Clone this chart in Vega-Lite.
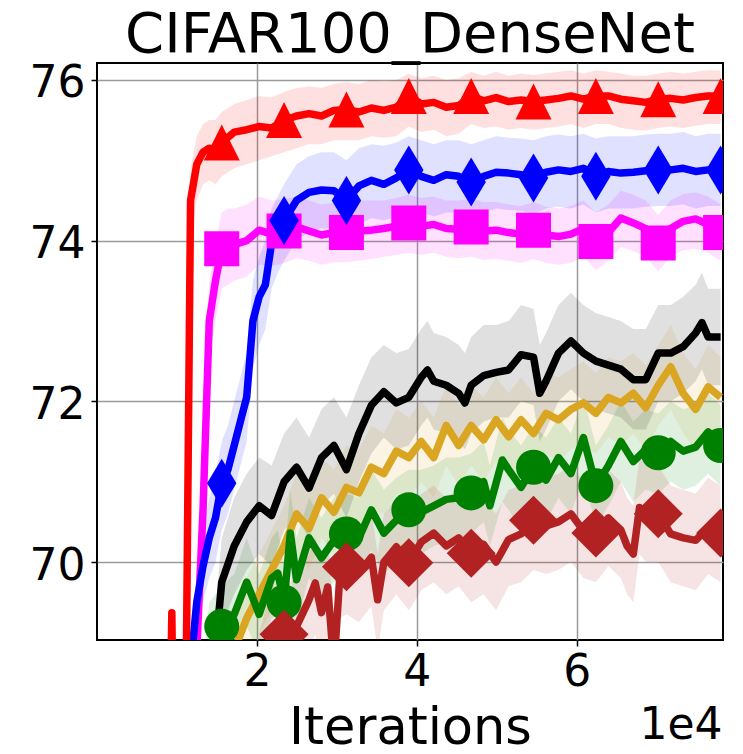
{
  "$schema": "https://vega.github.io/schema/vega-lite/v6.json",
  "width": 626,
  "height": 577,
  "autosize": {"type": "none"},
  "padding": {"left": 97, "top": 63, "right": 20, "bottom": 114},
  "background": "white",
  "title": {
    "text": "CIFAR100_DenseNet",
    "font": "DejaVu Sans",
    "fontSize": 56,
    "fontWeight": "normal",
    "color": "black",
    "anchor": "middle",
    "frame": "group",
    "baseline": "alphabetic",
    "offset": -46
  },
  "config": {
    "font": "DejaVu Sans",
    "view": {"stroke": "black", "strokeWidth": 2}
  },
  "data": {
    "values": [
      {"s":"s1","x":15600,"y":67.5,"lo":67.0,"hi":68.0},
      {"s":"s1","x":17160,"y":68.9,"lo":68.4,"hi":69.4},
      {"s":"s1","x":18720,"y":69.3,"lo":68.8,"hi":69.8},
      {"s":"s1","x":20280,"y":69.6,"lo":69.1,"hi":70.1},
      {"s":"s1","x":21840,"y":69.9,"lo":69.4,"hi":70.4},
      {"s":"s1","x":23400,"y":70.2,"lo":69.7,"hi":70.7},
      {"s":"s1","x":24960,"y":70.6,"lo":70.1,"hi":71.1},
      {"s":"s1","x":26520,"y":70.42,"lo":69.9,"hi":70.95},
      {"s":"s1","x":28080,"y":70.8,"lo":70.3,"hi":71.3},
      {"s":"s1","x":29640,"y":70.62,"lo":70.1,"hi":71.15},
      {"s":"s1","x":31200,"y":70.93,"lo":70.4,"hi":71.45},
      {"s":"s1","x":32760,"y":70.86,"lo":70.35,"hi":71.4},
      {"s":"s1","x":34320,"y":71.18,"lo":70.65,"hi":71.7},
      {"s":"s1","x":35880,"y":71.1,"lo":70.6,"hi":71.6},
      {"s":"s1","x":37440,"y":71.38,"lo":70.85,"hi":71.9},
      {"s":"s1","x":39000,"y":71.3,"lo":70.8,"hi":71.8},
      {"s":"s1","x":40560,"y":71.5,"lo":71.0,"hi":72.0},
      {"s":"s1","x":42120,"y":71.3,"lo":70.8,"hi":71.8},
      {"s":"s1","x":43680,"y":71.7,"lo":71.2,"hi":72.2},
      {"s":"s1","x":45240,"y":71.45,"lo":70.95,"hi":71.95},
      {"s":"s1","x":46800,"y":71.7,"lo":71.2,"hi":72.2},
      {"s":"s1","x":48360,"y":71.52,"lo":71.0,"hi":72.05},
      {"s":"s1","x":49920,"y":71.77,"lo":71.25,"hi":72.3},
      {"s":"s1","x":51480,"y":71.56,"lo":71.05,"hi":72.1},
      {"s":"s1","x":53040,"y":71.77,"lo":71.25,"hi":72.3},
      {"s":"s1","x":54600,"y":71.6,"lo":71.1,"hi":72.1},
      {"s":"s1","x":56160,"y":71.85,"lo":71.35,"hi":72.35},
      {"s":"s1","x":57720,"y":71.77,"lo":71.25,"hi":72.3},
      {"s":"s1","x":59280,"y":71.9,"lo":71.4,"hi":72.4},
      {"s":"s1","x":60840,"y":71.98,"lo":71.45,"hi":72.5},
      {"s":"s1","x":62400,"y":71.85,"lo":71.35,"hi":72.35},
      {"s":"s1","x":63960,"y":72.05,"lo":71.55,"hi":72.55},
      {"s":"s1","x":65520,"y":71.98,"lo":71.45,"hi":72.5},
      {"s":"s1","x":67080,"y":72.1,"lo":71.6,"hi":72.6},
      {"s":"s1","x":68640,"y":71.92,"lo":71.4,"hi":72.45},
      {"s":"s1","x":70200,"y":72.2,"lo":71.7,"hi":72.7},
      {"s":"s1","x":71760,"y":72.43,"lo":71.9,"hi":72.95},
      {"s":"s1","x":73320,"y":72.1,"lo":71.6,"hi":72.6},
      {"s":"s1","x":74880,"y":71.9,"lo":71.4,"hi":72.4},
      {"s":"s1","x":76440,"y":72.18,"lo":71.65,"hi":72.7},
      {"s":"s1","x":78000,"y":72.05,"lo":71.55,"hi":72.55},

      {"s":"s2","x":12480,"y":67.5,"lo":67.0,"hi":68.0},
      {"s":"s2","x":14040,"y":68.95,"lo":68.4,"hi":69.5},
      {"s":"s2","x":15600,"y":69.2,"lo":68.7,"hi":69.7},
      {"s":"s2","x":17160,"y":69.35,"lo":68.85,"hi":69.85},
      {"s":"s2","x":18720,"y":69.75,"lo":69.2,"hi":70.3},
      {"s":"s2","x":20280,"y":69.35,"lo":68.85,"hi":69.85},
      {"s":"s2","x":21840,"y":69.8,"lo":69.3,"hi":70.3},
      {"s":"s2","x":22620,"y":69.86,"lo":69.35,"hi":70.4},
      {"s":"s2","x":23400,"y":69.5,"lo":69.0,"hi":70.0},
      {"s":"s2","x":24180,"y":70.36,"lo":69.85,"hi":70.9},
      {"s":"s2","x":24960,"y":69.78,"lo":69.25,"hi":70.3},
      {"s":"s2","x":26520,"y":70.3,"lo":69.8,"hi":70.8},
      {"s":"s2","x":28080,"y":70.05,"lo":69.55,"hi":70.55},
      {"s":"s2","x":29640,"y":70.27,"lo":69.75,"hi":70.8},
      {"s":"s2","x":31200,"y":70.35,"lo":69.85,"hi":70.85},
      {"s":"s2","x":32760,"y":70.3,"lo":69.8,"hi":70.8},
      {"s":"s2","x":34320,"y":70.65,"lo":70.15,"hi":71.15},
      {"s":"s2","x":35880,"y":70.36,"lo":69.85,"hi":70.9},
      {"s":"s2","x":37440,"y":70.52,"lo":70.0,"hi":71.05},
      {"s":"s2","x":39000,"y":70.65,"lo":70.15,"hi":71.15},
      {"s":"s2","x":40560,"y":70.62,"lo":70.1,"hi":71.15},
      {"s":"s2","x":42120,"y":70.7,"lo":70.2,"hi":71.2},
      {"s":"s2","x":43680,"y":70.78,"lo":70.25,"hi":71.3},
      {"s":"s2","x":45240,"y":70.8,"lo":70.3,"hi":71.3},
      {"s":"s2","x":46800,"y":70.86,"lo":70.35,"hi":71.35},
      {"s":"s2","x":48360,"y":71.0,"lo":70.5,"hi":71.5},
      {"s":"s2","x":49140,"y":70.7,"lo":70.2,"hi":71.2},
      {"s":"s2","x":50700,"y":71.27,"lo":70.75,"hi":71.8},
      {"s":"s2","x":51480,"y":71.15,"lo":70.65,"hi":71.65},
      {"s":"s2","x":53040,"y":70.93,"lo":70.4,"hi":71.45},
      {"s":"s2","x":54600,"y":71.18,"lo":70.65,"hi":71.7},
      {"s":"s2","x":56160,"y":71.02,"lo":70.5,"hi":71.55},
      {"s":"s2","x":57720,"y":71.3,"lo":70.8,"hi":71.8},
      {"s":"s2","x":59280,"y":71.1,"lo":70.6,"hi":71.6},
      {"s":"s2","x":60840,"y":71.55,"lo":71.05,"hi":72.05},
      {"s":"s2","x":62400,"y":70.95,"lo":70.45,"hi":71.45},
      {"s":"s2","x":63960,"y":71.2,"lo":70.7,"hi":71.7},
      {"s":"s2","x":65520,"y":71.5,"lo":71.0,"hi":72.0},
      {"s":"s2","x":67080,"y":71.25,"lo":70.75,"hi":71.75},
      {"s":"s2","x":68640,"y":71.4,"lo":70.9,"hi":71.9},
      {"s":"s2","x":70200,"y":71.36,"lo":70.85,"hi":71.85},
      {"s":"s2","x":71760,"y":71.5,"lo":71.0,"hi":72.0},
      {"s":"s2","x":73320,"y":71.38,"lo":70.9,"hi":71.9},
      {"s":"s2","x":74880,"y":71.43,"lo":70.95,"hi":71.95},
      {"s":"s2","x":76440,"y":71.62,"lo":71.1,"hi":72.1},
      {"s":"s2","x":78000,"y":71.45,"lo":70.95,"hi":71.95},

      {"s":"s3","x":18720,"y":67.5,"lo":67.0,"hi":68.0},
      {"s":"s3","x":20280,"y":68.5,"lo":67.9,"hi":69.1},
      {"s":"s3","x":21840,"y":69.1,"lo":68.5,"hi":69.7},
      {"s":"s3","x":23400,"y":69.1,"lo":68.5,"hi":69.7},
      {"s":"s3","x":24960,"y":69.2,"lo":68.6,"hi":69.8},
      {"s":"s3","x":26520,"y":69.53,"lo":68.9,"hi":70.1},
      {"s":"s3","x":27300,"y":69.74,"lo":69.1,"hi":70.3},
      {"s":"s3","x":28080,"y":69.37,"lo":68.75,"hi":70.0},
      {"s":"s3","x":28860,"y":69.69,"lo":69.05,"hi":70.3},
      {"s":"s3","x":29640,"y":68.7,"lo":68.1,"hi":69.3},
      {"s":"s3","x":30420,"y":69.9,"lo":69.3,"hi":70.5},
      {"s":"s3","x":31200,"y":69.94,"lo":69.35,"hi":70.55},
      {"s":"s3","x":32760,"y":69.86,"lo":69.25,"hi":70.45},
      {"s":"s3","x":34320,"y":70.06,"lo":69.45,"hi":70.65},
      {"s":"s3","x":35100,"y":69.53,"lo":68.9,"hi":70.1},
      {"s":"s3","x":35880,"y":70.0,"lo":69.4,"hi":70.6},
      {"s":"s3","x":37440,"y":70.19,"lo":69.6,"hi":70.8},
      {"s":"s3","x":39000,"y":69.99,"lo":69.4,"hi":70.6},
      {"s":"s3","x":40560,"y":70.25,"lo":69.65,"hi":70.85},
      {"s":"s3","x":42120,"y":70.36,"lo":69.75,"hi":70.95},
      {"s":"s3","x":43680,"y":70.2,"lo":69.6,"hi":70.8},
      {"s":"s3","x":45240,"y":70.3,"lo":69.7,"hi":70.9},
      {"s":"s3","x":46800,"y":70.11,"lo":69.5,"hi":70.7},
      {"s":"s3","x":48360,"y":70.22,"lo":69.6,"hi":70.8},
      {"s":"s3","x":49920,"y":70.0,"lo":69.4,"hi":70.6},
      {"s":"s3","x":51480,"y":70.28,"lo":69.7,"hi":70.9},
      {"s":"s3","x":53040,"y":70.35,"lo":69.75,"hi":70.95},
      {"s":"s3","x":54600,"y":70.52,"lo":69.9,"hi":71.1},
      {"s":"s3","x":56160,"y":70.45,"lo":69.85,"hi":71.05},
      {"s":"s3","x":57720,"y":70.5,"lo":69.9,"hi":71.1},
      {"s":"s3","x":59280,"y":70.6,"lo":70.0,"hi":71.2},
      {"s":"s3","x":60840,"y":70.39,"lo":69.8,"hi":71.0},
      {"s":"s3","x":62400,"y":70.36,"lo":69.75,"hi":70.95},
      {"s":"s3","x":63960,"y":70.55,"lo":69.95,"hi":71.15},
      {"s":"s3","x":65520,"y":70.4,"lo":69.8,"hi":71.0},
      {"s":"s3","x":66300,"y":70.2,"lo":69.6,"hi":70.8},
      {"s":"s3","x":67080,"y":70.1,"lo":69.5,"hi":70.7},
      {"s":"s3","x":67860,"y":70.68,"lo":70.1,"hi":71.3},
      {"s":"s3","x":68640,"y":70.62,"lo":70.0,"hi":71.2},
      {"s":"s3","x":70200,"y":70.6,"lo":70.0,"hi":71.2},
      {"s":"s3","x":71760,"y":70.35,"lo":69.75,"hi":70.95},
      {"s":"s3","x":73320,"y":70.3,"lo":69.7,"hi":70.9},
      {"s":"s3","x":74880,"y":70.27,"lo":69.65,"hi":70.85},
      {"s":"s3","x":76440,"y":70.43,"lo":69.85,"hi":71.05},
      {"s":"s3","x":78000,"y":70.36,"lo":69.75,"hi":70.95},

      {"s":"s4","x":14040,"y":67.0,"lo":66.5,"hi":67.5},
      {"s":"s4","x":14820,"y":68.9,"lo":68.4,"hi":69.4},
      {"s":"s4","x":15600,"y":69.75,"lo":69.2,"hi":70.3},
      {"s":"s4","x":17160,"y":70.2,"lo":69.6,"hi":70.8},
      {"s":"s4","x":18720,"y":70.5,"lo":69.9,"hi":71.1},
      {"s":"s4","x":20280,"y":70.7,"lo":70.1,"hi":71.3},
      {"s":"s4","x":21840,"y":70.58,"lo":69.95,"hi":71.2},
      {"s":"s4","x":23400,"y":71.0,"lo":70.4,"hi":71.6},
      {"s":"s4","x":24960,"y":71.18,"lo":70.55,"hi":71.8},
      {"s":"s4","x":26520,"y":70.92,"lo":70.3,"hi":71.55},
      {"s":"s4","x":28080,"y":71.3,"lo":70.7,"hi":71.9},
      {"s":"s4","x":29640,"y":71.45,"lo":70.85,"hi":72.05},
      {"s":"s4","x":31200,"y":71.15,"lo":70.55,"hi":71.8},
      {"s":"s4","x":32760,"y":71.6,"lo":71.0,"hi":72.2},
      {"s":"s4","x":34320,"y":71.95,"lo":71.35,"hi":72.55},
      {"s":"s4","x":35880,"y":72.12,"lo":71.55,"hi":72.7},
      {"s":"s4","x":37440,"y":71.98,"lo":71.4,"hi":72.6},
      {"s":"s4","x":39000,"y":72.05,"lo":71.45,"hi":72.65},
      {"s":"s4","x":40560,"y":72.3,"lo":71.7,"hi":72.9},
      {"s":"s4","x":41340,"y":72.39,"lo":71.8,"hi":73.0},
      {"s":"s4","x":42120,"y":72.25,"lo":71.65,"hi":72.85},
      {"s":"s4","x":43680,"y":72.2,"lo":71.6,"hi":72.8},
      {"s":"s4","x":45240,"y":72.1,"lo":71.5,"hi":72.7},
      {"s":"s4","x":46020,"y":71.98,"lo":71.4,"hi":72.6},
      {"s":"s4","x":46800,"y":72.2,"lo":71.6,"hi":72.8},
      {"s":"s4","x":48360,"y":72.32,"lo":71.75,"hi":72.95},
      {"s":"s4","x":49920,"y":72.36,"lo":71.8,"hi":72.95},
      {"s":"s4","x":51480,"y":72.39,"lo":71.8,"hi":73.0},
      {"s":"s4","x":53040,"y":72.58,"lo":72.0,"hi":73.2},
      {"s":"s4","x":54600,"y":72.55,"lo":71.95,"hi":73.15},
      {"s":"s4","x":55380,"y":72.1,"lo":71.5,"hi":72.7},
      {"s":"s4","x":56160,"y":72.25,"lo":71.65,"hi":72.85},
      {"s":"s4","x":57720,"y":72.6,"lo":72.0,"hi":73.2},
      {"s":"s4","x":59280,"y":72.75,"lo":72.15,"hi":73.35},
      {"s":"s4","x":60840,"y":72.6,"lo":72.0,"hi":73.2},
      {"s":"s4","x":62400,"y":72.5,"lo":71.9,"hi":73.1},
      {"s":"s4","x":63960,"y":72.45,"lo":71.85,"hi":73.05},
      {"s":"s4","x":65520,"y":72.4,"lo":71.8,"hi":73.0},
      {"s":"s4","x":67080,"y":72.27,"lo":71.65,"hi":72.9},
      {"s":"s4","x":68640,"y":72.27,"lo":71.65,"hi":72.9},
      {"s":"s4","x":70200,"y":72.6,"lo":72.0,"hi":73.2},
      {"s":"s4","x":71760,"y":72.6,"lo":72.0,"hi":73.2},
      {"s":"s4","x":73320,"y":72.68,"lo":72.1,"hi":73.3},
      {"s":"s4","x":74880,"y":72.85,"lo":72.25,"hi":73.45},
      {"s":"s4","x":75660,"y":72.98,"lo":72.4,"hi":73.6},
      {"s":"s4","x":76440,"y":72.8,"lo":72.2,"hi":73.4},
      {"s":"s4","x":78000,"y":72.8,"lo":72.2,"hi":73.4},

      {"s":"s5","x":11700,"y":66.0,"lo":66.0,"hi":66.0},
      {"s":"s5","x":12480,"y":68.9,"lo":68.6,"hi":69.2},
      {"s":"s5","x":13260,"y":70.65,"lo":70.2,"hi":71.1},
      {"s":"s5","x":14040,"y":73.0,"lo":72.5,"hi":73.5},
      {"s":"s5","x":14820,"y":73.5,"lo":73.0,"hi":73.95},
      {"s":"s5","x":15600,"y":73.9,"lo":73.4,"hi":74.35},
      {"s":"s5","x":16380,"y":73.95,"lo":73.45,"hi":74.4},
      {"s":"s5","x":17160,"y":73.95,"lo":73.5,"hi":74.4},
      {"s":"s5","x":18720,"y":74.0,"lo":73.55,"hi":74.45},
      {"s":"s5","x":20280,"y":74.13,"lo":73.7,"hi":74.55},
      {"s":"s5","x":21840,"y":74.08,"lo":73.68,"hi":74.5},
      {"s":"s5","x":23400,"y":74.12,"lo":73.72,"hi":74.52},
      {"s":"s5","x":24960,"y":74.17,"lo":73.78,"hi":74.55},
      {"s":"s5","x":26520,"y":74.12,"lo":73.75,"hi":74.5},
      {"s":"s5","x":28080,"y":74.07,"lo":73.7,"hi":74.45},
      {"s":"s5","x":29640,"y":74.1,"lo":73.73,"hi":74.47},
      {"s":"s5","x":31200,"y":74.1,"lo":73.73,"hi":74.47},
      {"s":"s5","x":32760,"y":74.12,"lo":73.75,"hi":74.5},
      {"s":"s5","x":34320,"y":74.13,"lo":73.77,"hi":74.5},
      {"s":"s5","x":35880,"y":74.15,"lo":73.8,"hi":74.5},
      {"s":"s5","x":37440,"y":74.18,"lo":73.82,"hi":74.53},
      {"s":"s5","x":39000,"y":74.22,"lo":73.85,"hi":74.57},
      {"s":"s5","x":40560,"y":74.18,"lo":73.82,"hi":74.53},
      {"s":"s5","x":42120,"y":74.2,"lo":73.85,"hi":74.55},
      {"s":"s5","x":43680,"y":74.15,"lo":73.8,"hi":74.5},
      {"s":"s5","x":45240,"y":74.14,"lo":73.78,"hi":74.5},
      {"s":"s5","x":46800,"y":74.17,"lo":73.8,"hi":74.52},
      {"s":"s5","x":48360,"y":74.12,"lo":73.76,"hi":74.48},
      {"s":"s5","x":49920,"y":74.13,"lo":73.77,"hi":74.48},
      {"s":"s5","x":51480,"y":74.1,"lo":73.75,"hi":74.45},
      {"s":"s5","x":53040,"y":74.08,"lo":73.72,"hi":74.43},
      {"s":"s5","x":54600,"y":74.13,"lo":73.77,"hi":74.48},
      {"s":"s5","x":56160,"y":74.07,"lo":73.72,"hi":74.42},
      {"s":"s5","x":57720,"y":74.05,"lo":73.7,"hi":74.4},
      {"s":"s5","x":59280,"y":74.08,"lo":73.72,"hi":74.43},
      {"s":"s5","x":60840,"y":74.15,"lo":73.8,"hi":74.5},
      {"s":"s5","x":62400,"y":73.99,"lo":73.63,"hi":74.35},
      {"s":"s5","x":63960,"y":74.1,"lo":73.75,"hi":74.45},
      {"s":"s5","x":65520,"y":74.28,"lo":73.92,"hi":74.62},
      {"s":"s5","x":67080,"y":74.22,"lo":73.87,"hi":74.57},
      {"s":"s5","x":68640,"y":74.15,"lo":73.8,"hi":74.5},
      {"s":"s5","x":70200,"y":73.97,"lo":73.62,"hi":74.32},
      {"s":"s5","x":71760,"y":74.15,"lo":73.8,"hi":74.5},
      {"s":"s5","x":73320,"y":74.24,"lo":73.88,"hi":74.58},
      {"s":"s5","x":74880,"y":74.27,"lo":73.9,"hi":74.6},
      {"s":"s5","x":76440,"y":74.2,"lo":73.85,"hi":74.55},
      {"s":"s5","x":78000,"y":74.1,"lo":73.75,"hi":74.45},

      {"s":"s6","x":10920,"y":66.0,"lo":66.0,"hi":66.0},
      {"s":"s6","x":11700,"y":68.7,"lo":68.4,"hi":69.0},
      {"s":"s6","x":12480,"y":69.5,"lo":69.1,"hi":69.9},
      {"s":"s6","x":13260,"y":69.95,"lo":69.5,"hi":70.4},
      {"s":"s6","x":14040,"y":70.3,"lo":69.8,"hi":70.8},
      {"s":"s6","x":14820,"y":70.55,"lo":70.0,"hi":71.1},
      {"s":"s6","x":15600,"y":70.98,"lo":70.4,"hi":71.5},
      {"s":"s6","x":16380,"y":71.15,"lo":70.6,"hi":71.7},
      {"s":"s6","x":17160,"y":71.45,"lo":70.9,"hi":72.0},
      {"s":"s6","x":17940,"y":71.75,"lo":71.2,"hi":72.3},
      {"s":"s6","x":18720,"y":72.05,"lo":71.5,"hi":72.6},
      {"s":"s6","x":19500,"y":73.0,"lo":72.4,"hi":73.5},
      {"s":"s6","x":20280,"y":73.3,"lo":72.7,"hi":73.8},
      {"s":"s6","x":21060,"y":73.45,"lo":72.9,"hi":74.0},
      {"s":"s6","x":21840,"y":73.97,"lo":73.4,"hi":74.4},
      {"s":"s6","x":22620,"y":74.1,"lo":73.6,"hi":74.55},
      {"s":"s6","x":23400,"y":74.25,"lo":73.75,"hi":74.7},
      {"s":"s6","x":24960,"y":74.5,"lo":74.0,"hi":74.95},
      {"s":"s6","x":26520,"y":74.6,"lo":74.1,"hi":75.05},
      {"s":"s6","x":28080,"y":74.63,"lo":74.15,"hi":75.1},
      {"s":"s6","x":29640,"y":74.62,"lo":74.15,"hi":75.1},
      {"s":"s6","x":31200,"y":74.5,"lo":74.05,"hi":75.0},
      {"s":"s6","x":32760,"y":74.68,"lo":74.2,"hi":75.15},
      {"s":"s6","x":34320,"y":74.75,"lo":74.28,"hi":75.2},
      {"s":"s6","x":35880,"y":74.7,"lo":74.25,"hi":75.18},
      {"s":"s6","x":37440,"y":74.78,"lo":74.3,"hi":75.22},
      {"s":"s6","x":39000,"y":74.88,"lo":74.4,"hi":75.3},
      {"s":"s6","x":40560,"y":74.8,"lo":74.35,"hi":75.25},
      {"s":"s6","x":42120,"y":74.75,"lo":74.3,"hi":75.2},
      {"s":"s6","x":43680,"y":74.82,"lo":74.35,"hi":75.25},
      {"s":"s6","x":45240,"y":74.8,"lo":74.35,"hi":75.25},
      {"s":"s6","x":46800,"y":74.73,"lo":74.28,"hi":75.2},
      {"s":"s6","x":48360,"y":74.8,"lo":74.35,"hi":75.25},
      {"s":"s6","x":49920,"y":74.85,"lo":74.4,"hi":75.3},
      {"s":"s6","x":51480,"y":74.84,"lo":74.38,"hi":75.28},
      {"s":"s6","x":53040,"y":74.82,"lo":74.37,"hi":75.27},
      {"s":"s6","x":54600,"y":74.78,"lo":74.33,"hi":75.25},
      {"s":"s6","x":56160,"y":74.85,"lo":74.4,"hi":75.3},
      {"s":"s6","x":57720,"y":74.88,"lo":74.42,"hi":75.32},
      {"s":"s6","x":59280,"y":74.86,"lo":74.4,"hi":75.3},
      {"s":"s6","x":60840,"y":74.9,"lo":74.45,"hi":75.33},
      {"s":"s6","x":62400,"y":74.8,"lo":74.35,"hi":75.27},
      {"s":"s6","x":63960,"y":74.86,"lo":74.4,"hi":75.3},
      {"s":"s6","x":65520,"y":74.84,"lo":74.4,"hi":75.3},
      {"s":"s6","x":67080,"y":74.85,"lo":74.4,"hi":75.3},
      {"s":"s6","x":68640,"y":74.87,"lo":74.42,"hi":75.32},
      {"s":"s6","x":70200,"y":74.88,"lo":74.43,"hi":75.33},
      {"s":"s6","x":71760,"y":74.88,"lo":74.43,"hi":75.33},
      {"s":"s6","x":73320,"y":74.9,"lo":74.45,"hi":75.35},
      {"s":"s6","x":74880,"y":74.86,"lo":74.4,"hi":75.3},
      {"s":"s6","x":76440,"y":74.88,"lo":74.43,"hi":75.33},
      {"s":"s6","x":78000,"y":74.88,"lo":74.43,"hi":75.33},

      {"s":"s7","x":7800,"y":60.0,"lo":60.0,"hi":60.0},
      {"s":"s7","x":9360,"y":69.37,"lo":69.2,"hi":69.5},
      {"s":"s7","x":10140,"y":63.0,"lo":63.0,"hi":63.0},
      {"s":"s7","x":10920,"y":66.0,"lo":65.5,"hi":66.5},
      {"s":"s7","x":11700,"y":74.5,"lo":74.0,"hi":74.9},
      {"s":"s7","x":12480,"y":74.95,"lo":74.5,"hi":75.3},
      {"s":"s7","x":13260,"y":75.1,"lo":74.7,"hi":75.45},
      {"s":"s7","x":14040,"y":75.15,"lo":74.75,"hi":75.5},
      {"s":"s7","x":14820,"y":75.12,"lo":74.7,"hi":75.5},
      {"s":"s7","x":15600,"y":75.22,"lo":74.8,"hi":75.6},
      {"s":"s7","x":17160,"y":75.35,"lo":74.9,"hi":75.7},
      {"s":"s7","x":18720,"y":75.38,"lo":74.95,"hi":75.75},
      {"s":"s7","x":20280,"y":75.42,"lo":75.0,"hi":75.8},
      {"s":"s7","x":21840,"y":75.4,"lo":75.05,"hi":75.78},
      {"s":"s7","x":23400,"y":75.5,"lo":75.1,"hi":75.85},
      {"s":"s7","x":24960,"y":75.55,"lo":75.15,"hi":75.9},
      {"s":"s7","x":26520,"y":75.58,"lo":75.2,"hi":75.92},
      {"s":"s7","x":28080,"y":75.55,"lo":75.2,"hi":75.9},
      {"s":"s7","x":29640,"y":75.62,"lo":75.25,"hi":75.95},
      {"s":"s7","x":31200,"y":75.63,"lo":75.25,"hi":75.97},
      {"s":"s7","x":32760,"y":75.6,"lo":75.25,"hi":75.95},
      {"s":"s7","x":34320,"y":75.65,"lo":75.3,"hi":76.0},
      {"s":"s7","x":35880,"y":75.62,"lo":75.28,"hi":75.98},
      {"s":"s7","x":37440,"y":75.66,"lo":75.3,"hi":76.0},
      {"s":"s7","x":39000,"y":75.8,"lo":75.42,"hi":76.08},
      {"s":"s7","x":40560,"y":75.7,"lo":75.35,"hi":76.02},
      {"s":"s7","x":42120,"y":75.72,"lo":75.38,"hi":76.05},
      {"s":"s7","x":43680,"y":75.66,"lo":75.3,"hi":76.0},
      {"s":"s7","x":45240,"y":75.68,"lo":75.33,"hi":76.02},
      {"s":"s7","x":46800,"y":75.8,"lo":75.45,"hi":76.1},
      {"s":"s7","x":48360,"y":75.74,"lo":75.4,"hi":76.05},
      {"s":"s7","x":49920,"y":75.78,"lo":75.42,"hi":76.1},
      {"s":"s7","x":51480,"y":75.73,"lo":75.38,"hi":76.05},
      {"s":"s7","x":53040,"y":75.75,"lo":75.4,"hi":76.08},
      {"s":"s7","x":54600,"y":75.73,"lo":75.38,"hi":76.06},
      {"s":"s7","x":56160,"y":75.75,"lo":75.4,"hi":76.08},
      {"s":"s7","x":57720,"y":75.77,"lo":75.42,"hi":76.1},
      {"s":"s7","x":59280,"y":75.8,"lo":75.45,"hi":76.12},
      {"s":"s7","x":60840,"y":75.76,"lo":75.4,"hi":76.08},
      {"s":"s7","x":62400,"y":75.8,"lo":75.45,"hi":76.12},
      {"s":"s7","x":63960,"y":75.8,"lo":75.45,"hi":76.1},
      {"s":"s7","x":65520,"y":75.76,"lo":75.4,"hi":76.08},
      {"s":"s7","x":67080,"y":75.74,"lo":75.38,"hi":76.05},
      {"s":"s7","x":68640,"y":75.72,"lo":75.37,"hi":76.05},
      {"s":"s7","x":70200,"y":75.76,"lo":75.4,"hi":76.08},
      {"s":"s7","x":71760,"y":75.77,"lo":75.42,"hi":76.1},
      {"s":"s7","x":73320,"y":75.75,"lo":75.4,"hi":76.08},
      {"s":"s7","x":74880,"y":75.78,"lo":75.43,"hi":76.1},
      {"s":"s7","x":76440,"y":75.8,"lo":75.45,"hi":76.12},
      {"s":"s7","x":78000,"y":75.8,"lo":75.45,"hi":76.12}
    ]
  },
  "layer": [
    {
      "mark": {"type": "area", "clip": true, "opacity": 0.12},
      "encoding": {
        "x": {"field": "x", "type": "quantitative", "scale": {"domain": [0, 78300], "nice": false, "zero": false}, "axis": null},
        "y": {"field": "lo", "type": "quantitative", "title": null, "scale": {"domain": [69.03, 76.21], "nice": false, "zero": false}},
        "y2": {"field": "hi"},
        "color": {
          "field": "s", "type": "nominal", "legend": null,
          "scale": {"domain": ["s1","s2","s3","s4","s5","s6","s7"], "range": ["#daa520","#008000","#b22222","#000000","#ff00ff","#0000ff","#ff0000"]}
        }
      }
    },
    {
      "mark": {"type": "line", "clip": true, "strokeWidth": 7.5, "strokeJoin": "round", "strokeCap": "butt"},
      "encoding": {
        "x": {
          "field": "x", "type": "quantitative", "scale": {"domain": [0, 78300], "nice": false, "zero": false},
          "axis": {
            "orient": "bottom", "values": [20000, 40000, 60000], "labelExpr": "datum.value / 10000",
            "labelFont": "DejaVu Sans", "labelFontSize": 44, "labelColor": "black", "labelPadding": 4,
            "tickColor": "black", "tickSize": 6, "tickWidth": 1.5, "domain": false,
            "grid": true, "gridColor": "#9a9a9a", "gridWidth": 1.5,
            "title": "Iterations", "titleFont": "DejaVu Sans", "titleFontSize": 51, "titleFontWeight": "normal",
            "titleColor": "black", "titleBaseline": "alphabetic", "titleY": 103
          }
        },
        "y": {
          "field": "y", "type": "quantitative", "title": null,
          "scale": {"domain": [69.03, 76.21], "nice": false, "zero": false},
          "axis": {
            "values": [70, 72, 74, 76], "format": "d", "labelFont": "DejaVu Sans", "labelFontSize": 44, "labelColor": "black",
            "labelPadding": 6, "labelOffset": 4, "tickColor": "black", "tickSize": 6, "tickWidth": 1.5, "domain": false,
            "grid": true, "gridColor": "#9a9a9a", "gridWidth": 1.5, "title": null
          }
        },
        "color": {
          "field": "s", "type": "nominal", "legend": null,
          "scale": {"domain": ["s1","s2","s3","s4","s5","s6","s7"], "range": ["#daa520","#008000","#b22222","#000000","#ff00ff","#0000ff","#ff0000"]}
        }
      }
    },
    {
      "transform": [{"filter": "datum.x % 7800 === 0 && datum.s !== 's1' && datum.s !== 's4'"}],
      "mark": {"type": "point", "filled": true, "opacity": 1, "clip": true},
      "encoding": {
        "x": {
          "field": "x", "type": "quantitative", "scale": {"domain": [0, 78300], "nice": false, "zero": false},
          "axis": {
            "orient": "bottom", "labels": false, "ticks": false, "domain": false, "grid": false,
            "title": "1e4", "titleFont": "DejaVu Sans", "titleFontSize": 44, "titleFontWeight": "normal",
            "titleColor": "black", "titleAlign": "right", "titleBaseline": "alphabetic", "titleX": 625, "titleY": 98
          }
        },
        "y": {"field": "y", "type": "quantitative", "title": null, "scale": {"domain": [69.03, 76.21], "nice": false, "zero": false}},
        "color": {
          "field": "s", "type": "nominal", "legend": null,
          "scale": {"domain": ["s1","s2","s3","s4","s5","s6","s7"], "range": ["#daa520","#008000","#b22222","#000000","#ff00ff","#0000ff","#ff0000"]}
        },
        "shape": {
          "field": "s", "type": "nominal", "legend": null,
          "scale": {"domain": ["s2","s3","s5","s6","s7"], "range": ["circle", "M0,-1L1,0L0,1L-1,0Z", "square", "M0,-1L0.6,0L0,1L-0.6,0Z", "M0,-1L1,1L-1,1Z"]}
        },
        "size": {
          "field": "s", "type": "nominal", "legend": null,
          "scale": {"type": "ordinal", "domain": ["s2","s3","s5","s6","s7"], "range": [1225, 2401, 1225, 2401, 1296]}
        }
      }
    }
  ],
  "resolve": {"axis": {"x": "independent"}}
}
